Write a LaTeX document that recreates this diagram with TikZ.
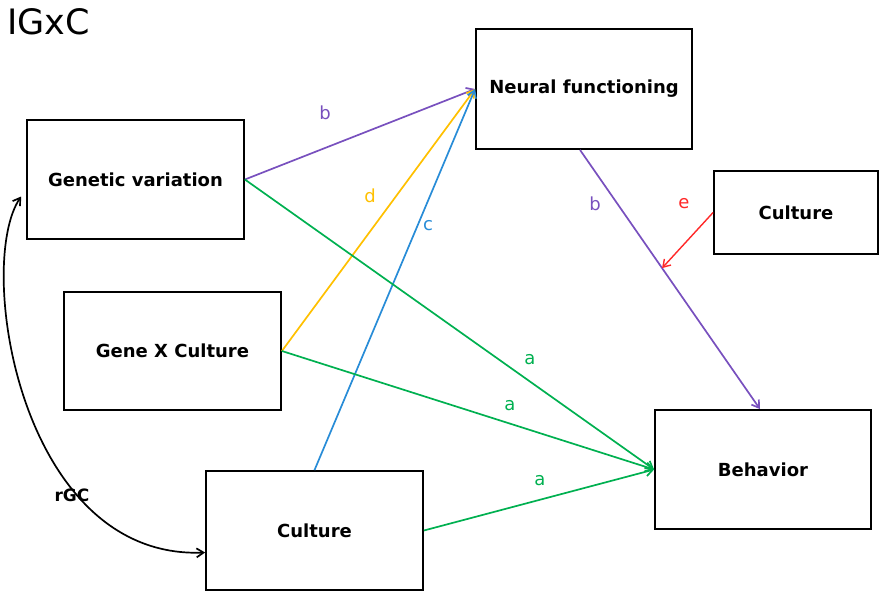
\documentclass[tikz,border=0pt]{standalone}
\usepackage{fontspec}
\setmainfont{DejaVu Sans}
\usepackage{xcolor}
\usepackage{tikz}
\usetikzlibrary{arrows.meta, positioning}

\definecolor{purp}{RGB}{120,80,190}
\definecolor{gold}{RGB}{255,192,0}
\definecolor{sky}{RGB}{40,140,215}
\definecolor{grn}{RGB}{0,176,80}
\definecolor{rd}{RGB}{255,40,40}

\tikzset{
  box/.style={draw,line width=1.8pt,inner sep=0pt,font=\fontsize{18}{21}\selectfont\bfseries},
  path/.style={line width=1.7pt,-{Straight Barb[length=7pt,width=9pt]}},
  lbl/.style={font=\fontsize{18}{21}\selectfont}
}

\begin{document}
\begin{tikzpicture}[x=1pt,y=-1pt]
\useasboundingbox (0,0) rectangle (879,592);
\node[anchor=north west,inner sep=0pt,font=\fontsize{35}{40}\selectfont] (title) at (7,8) {IGxC};
% boxes
\node[box,minimum width=217pt,minimum height=119pt] (gv) at (135.5,179.5) {Genetic variation};
\node[box,minimum width=216pt,minimum height=120pt] (nf) at (584,89) {Neural functioning};
\node[box,minimum width=164pt,minimum height=83pt] (cr) at (796,212.5) {Culture};
\node[box,minimum width=217pt,minimum height=118pt] (gxc) at (172.5,351) {Gene X Culture};
\node[box,minimum width=216pt,minimum height=119pt] (beh) at (763,469.5) {Behavior};
\node[box,minimum width=217pt,minimum height=119pt] (cb) at (314.5,530.5) {Culture};
% paths to neural functioning
\draw[path,purp] (gv.east) -- (nf.west);
\draw[path,gold] (gxc.east) -- (nf.west);
\draw[path,sky] (cb.north) -- (nf.west);
% paths to behavior
\draw[path,grn] (gv.east) -- (beh.west);
\draw[path,grn] (gxc.east) -- (beh.west);
\draw[path,grn] (cb.east) -- (beh.west);
\draw[path,purp] ([xshift=-4pt]nf.south) -- ([xshift=-3pt]beh.north) coordinate[pos=0.456] (hit);
\draw[path,rd,line width=1.4pt] (cr.west) -- (hit);
% rGC
\coordinate (ga) at ([xshift=-5pt,yshift=-17pt]gv.west);
\coordinate (cbw) at ([yshift=-22pt]cb.west);
\draw[line width=1.7pt,{Straight Barb[length=7pt,width=9pt]}-{Straight Barb[length=7pt,width=9pt]}] (ga) .. controls (-25,265) and (20,560) .. (cbw);
% labels
\node[lbl,text=purp] (lb1) at (325,113) {b};
\node[lbl,text=gold] (ld) at (370,196) {d};
\node[lbl,text=sky] (lc) at (428,226) {c};
\node[lbl,text=purp] (lb2) at (595,204) {b};
\node[lbl,text=rd] (le) at (684,204) {e};
\node[lbl,text=grn] (la1) at (530,360) {a};
\node[lbl,text=grn] (la2) at (510,406) {a};
\node[lbl,text=grn] (la3) at (540,481) {a};
\node[font=\fontsize{17}{20}\selectfont\bfseries] (rgc) at (72,495) {rGC};
\end{tikzpicture}
\end{document}
